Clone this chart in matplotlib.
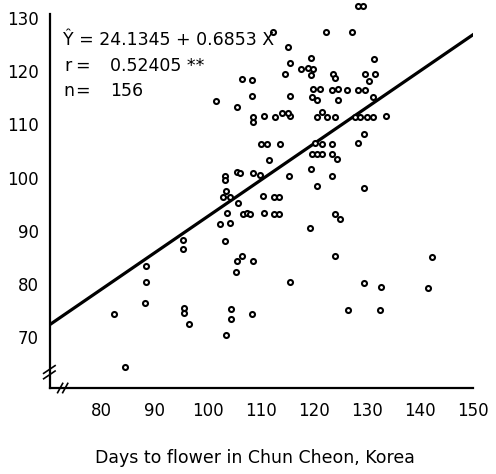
import numpy as np
import matplotlib
matplotlib.use("Agg")
import matplotlib.pyplot as plt

# regression printed on the chart
intercept = 24.1345
slope = 0.6853
r_value = "0.52405"
n_obs = 156

# days to flower in Chun Cheon (x) vs. days to flower (y)
days_chun_cheon = [
    82.3, 84.4, 88.4, 88.4, 88.2, 95.3, 95.3, 95.5, 95.5, 96.5,
    103.5, 104.4, 104.4, 108.4, 105.3, 105.5, 106.5, 108.5, 103.3, 102.3,
    104.2, 103.6, 106.7, 107.4, 108.0, 110.6, 112.5, 113.5, 105.7, 103.5,
    102.9, 104.2, 103.3, 103.3, 110.4, 112.5, 113.5, 119.3, 120.5, 129.5,
    123.9, 124.9, 123.9, 142.2, 115.5, 129.5, 132.7, 141.6, 126.5, 132.5,
    105.5, 106.1, 108.5, 109.9, 115.3, 119.5, 123.5, 111.6, 110.1, 111.2,
    113.6, 120.3, 121.6, 123.5, 128.4, 129.5, 119.7, 120.6, 121.6, 123.5,
    124.4, 115.5, 120.6, 121.6, 122.5, 124.0, 127.8, 128.7, 130.1, 131.2,
    133.6, 101.6, 105.5, 108.5, 108.5, 110.6, 112.7, 114.0, 115.2, 106.5,
    108.4, 108.4, 115.5, 115.2, 115.5, 114.6, 112.3, 119.5, 117.5, 118.8,
    119.9, 119.5, 123.6, 124.0, 129.7, 131.6, 130.4, 131.4, 122.3, 127.2,
    128.4, 129.3, 119.9, 121.2, 119.7, 120.6, 123.5, 124.6, 126.3, 128.4,
    129.7, 124.6, 131.2,
]
days_flower = [
    74.2, 64.2, 83.3, 80.3, 76.3, 88.2, 86.5, 75.4, 74.4, 72.4,
    70.3, 75.2, 73.3, 74.2, 82.2, 84.2, 85.2, 84.2, 88.0, 91.2,
    91.4, 93.3, 93.1, 93.3, 93.1, 93.3, 93.1, 93.1, 95.2, 97.5,
    96.3, 96.3, 100.3, 99.5, 96.5, 96.3, 96.3, 90.5, 98.4, 98.0,
    93.1, 92.2, 85.2, 85.0, 80.3, 80.1, 79.3, 79.2, 75.0, 75.0,
    101.0, 100.8, 100.8, 100.5, 100.3, 101.6, 100.3, 103.3, 106.3, 106.3,
    106.3, 106.5, 106.3, 106.3, 106.5, 108.2, 104.4, 104.4, 104.4, 104.4,
    103.5, 111.6, 111.4, 112.4, 111.4, 111.4, 111.4, 111.4, 111.4, 111.4,
    111.6, 114.4, 113.3, 111.4, 110.5, 111.6, 111.4, 112.2, 112.2, 118.6,
    118.4, 115.4, 115.4, 124.6, 121.6, 119.5, 127.5, 122.5, 120.5, 120.7,
    120.5, 119.3, 119.5, 118.8, 119.5, 119.5, 118.2, 122.4, 127.5, 127.5,
    132.4, 132.4, 116.7, 116.7, 115.2, 114.6, 116.5, 116.7, 116.5, 116.5,
    116.5, 114.6, 115.2,
]

x_ticks = [80, 90, 100, 110, 120, 130, 140, 150]
y_ticks = [70, 80, 90, 100, 110, 120, 130]

fig = plt.figure(figsize=(4.96, 4.74), dpi=100)
ax = fig.add_axes([0.1008, 0.1814, 0.8528, 0.8144])

ax.plot(days_chun_cheon, days_flower, 'o', ms=3.6, mfc='white', mec='black',
        mew=1.5, clip_on=False, zorder=3)

xs = np.array([70.25, 150.0])
ax.plot(xs, intercept + slope * xs, color='black', lw=2.3, zorder=2)

ax.set_xlim(70.25, 150.0)
ax.set_ylim(60.3, 133.1)
ax.spines['top'].set_visible(False)
ax.spines['right'].set_visible(False)
ax.spines['left'].set_bounds(60.3, 130.8)
ax.spines['left'].set_linewidth(1.6)
ax.spines['bottom'].set_linewidth(1.6)

ax.set_xticks(x_ticks)
ax.set_yticks(y_ticks)
ax.tick_params(length=0, labelsize=12)
ax.tick_params(axis='x', pad=10)
ax.tick_params(axis='y', pad=8)

ax.set_xlabel('Days to flower in Chun Cheon, Korea', fontsize=12.5, va='center')
ax.xaxis.set_label_coords(0.485, -0.181)

# axis break marks in the lower left corner
brk = dict(color='black', lw=1.2, clip_on=False, transform=ax.transAxes)
ax.plot([-0.015, 0.012], [0.038, 0.058], **brk)
ax.plot([-0.015, 0.012], [0.024, 0.044], **brk)
ax.plot([0.018, 0.030], [-0.012, 0.012], **brk)
ax.plot([0.030, 0.042], [-0.012, 0.012], **brk)

# regression statistics
ax.text(72.7, 126.0, 'Ŷ = 24.1345 + 0.6853 X', fontsize=12.5, va='center')
ax.text(73.0, 121.0, 'r', fontsize=12.5, va='center')
ax.text(74.9, 121.0, '=', fontsize=12.5, va='center')
ax.text(81.6, 121.0, r_value + ' **', fontsize=12.5, va='center')
ax.text(72.7, 116.3, 'n', fontsize=12.5, va='center')
ax.text(74.9, 116.3, '=', fontsize=12.5, va='center')
ax.text(81.6, 116.3, str(n_obs), fontsize=12.5, va='center')

fig.savefig('out.png', dpi=100)
